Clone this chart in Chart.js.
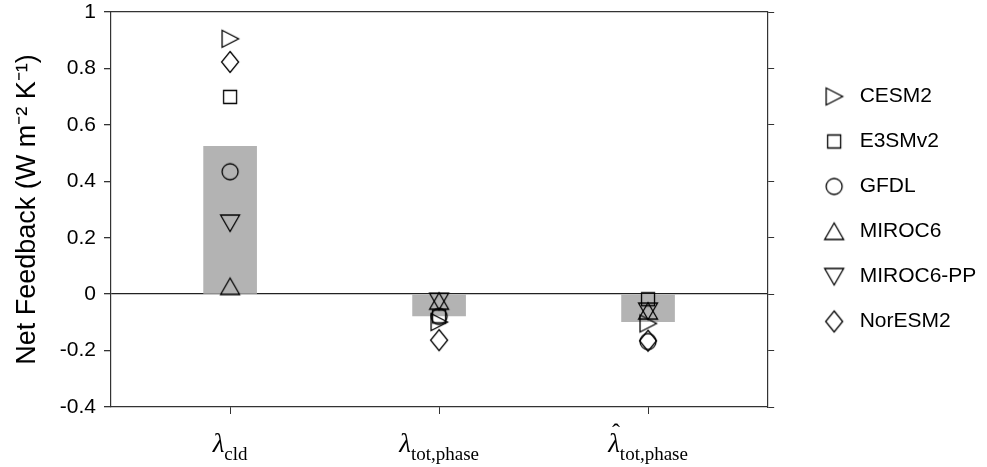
<!DOCTYPE html>
<html>
<head>
<meta charset="utf-8">
<script src="https://cdn.jsdelivr.net/npm/chart.js@4.4.1/dist/chart.umd.min.js"></script>
<style>
  html, body { margin: 0; padding: 0; background: #fff; }
</style>
</head>
<body>
<canvas id="chart" width="987" height="467"></canvas>
<script>
// categories (x positions) and their labels
var positions = [1, 2, 3];
var labelBase = ['λ', 'λ', 'λ'];
var labelSub = ['cld', 'tot,phase', 'tot,phase'];
var labelHat = [false, false, true];

// multi-model mean (grey bars)
var meanVals = [0.524, -0.077, -0.098];

// individual models
var models = ['CESM2', 'E3SMv2', 'GFDL', 'MIROC6', 'MIROC6-PP', 'NorESM2'];
var cesm2 = [0.905, -0.099, -0.104];
var e3smv2 = [0.699, -0.079, -0.018];
var gfdl = [0.434, -0.079, -0.168];
var miroc6 = [0.027, -0.025, -0.060];
var miroc6pp = [0.252, -0.025, -0.060];
var noresm2 = [0.823, -0.163, -0.165];

var yTicks = [-0.4, -0.2, 0, 0.2, 0.4, 0.6, 0.8, 1];

var SANS = 'Helvetica, "Liberation Sans", Arial, sans-serif';
var SERIF = '"Times New Roman", "Liberation Serif", serif';

// open marker shapes like the original plot
function marker(shape) {
    var c = document.createElement('canvas');
    c.width = 26; c.height = 26;
    var g = c.getContext('2d');
    var m = 13;
    g.strokeStyle = '#000';
    g.lineWidth = 1.3;
    g.beginPath();
    if (shape === 'right') {
        g.moveTo(m - 8, m - 8.5); g.lineTo(m + 8.5, m); g.lineTo(m - 8, m + 8.5); g.closePath();
    } else if (shape === 'square') {
        g.rect(m - 6.5, m - 6.5, 13, 13);
    } else if (shape === 'circle') {
        g.arc(m, m, 8, 0, Math.PI * 2);
    } else if (shape === 'up') {
        g.moveTo(m, m - 8.5); g.lineTo(m + 9.5, m + 8); g.lineTo(m - 9.5, m + 8); g.closePath();
    } else if (shape === 'down') {
        g.moveTo(m, m + 8.5); g.lineTo(m + 9.5, m - 8); g.lineTo(m - 9.5, m - 8); g.closePath();
    } else if (shape === 'diamond') {
        g.moveTo(m, m - 10.5); g.lineTo(m + 8.5, m); g.lineTo(m, m + 10.5); g.lineTo(m - 8.5, m); g.closePath();
    }
    g.stroke();
    return c;
}

var shapes = ['right', 'square', 'circle', 'up', 'down', 'diamond'];
var seriesVals = [cesm2, e3smv2, gfdl, miroc6, miroc6pp, noresm2];

function pts(vals) {
    return positions.map(function(p, i) { return { x: p, y: vals[i] }; });
}

var datasets = [{
    type: 'bar',
    label: 'mean',
    data: pts(meanVals),
    backgroundColor: '#b3b3b3',
    borderWidth: 0,
    barThickness: 53,
    order: 10
}];
models.forEach(function(name, k) {
    datasets.push({
        label: name,
        data: pts(seriesVals[k]),
        pointStyle: marker(shapes[k]),
        pointRadius: 9,
        showLine: false,
        order: 1
    });
});

// draws the lambda tick labels with sub/superscripts
var xLabelPlugin = {
    id: 'xLabels',
    afterDraw: function(chart) {
        var ctx = chart.ctx;
        var sx = chart.scales.x;
        ctx.save();
        ctx.fillStyle = '#000';
        ctx.textBaseline = 'alphabetic';
        ctx.textAlign = 'left';
        positions.forEach(function(p, i) {
            var cx = sx.getPixelForValue(p);
            ctx.font = 'italic 27px ' + SERIF;
            var wBase = ctx.measureText(labelBase[i]).width;
            ctx.font = '19px ' + SERIF;
            var wSub = ctx.measureText(labelSub[i]).width;
            var x0 = cx - (wBase + wSub) / 2;
            ctx.font = 'italic 27px ' + SERIF;
            ctx.fillText(labelBase[i], x0, 452);
            if (labelHat[i]) {
                ctx.font = '24px ' + SERIF;
                ctx.textAlign = 'center';
                ctx.fillText('ˆ', x0 + wBase / 2 + 2, 440);
                ctx.textAlign = 'left';
            }
            ctx.font = '19px ' + SERIF;
            ctx.fillText(labelSub[i], x0 + wBase, 460);
        });
        ctx.restore();
    }
};

var border = { display: true, color: '#333', width: 1.2 };

new Chart(document.getElementById('chart'), {
    type: 'scatter',
    data: { datasets: datasets },
    plugins: [xLabelPlugin],
    options: {
        responsive: false,
        animation: false,
        layout: { padding: { left: 0, right: 10, top: 0, bottom: 30 } },
        plugins: {
            tooltip: { enabled: false },
            legend: {
                position: 'right',
                labels: {
                    usePointStyle: true,
                    pointStyleWidth: 30,
                    padding: 5,
                    color: '#000',
                    font: { family: SANS, size: 21, lineHeight: '40px' },
                    // array text -> item height follows the font line height
                    generateLabels: function(chart) {
                        var items = Chart.defaults.plugins.legend.labels.generateLabels(chart);
                        return items.map(function(it) { it.text = [it.text]; return it; });
                    },
                    filter: function(item) { return item.datasetIndex > 0; }
                }
            }
        },
        scales: {
            x: {
                type: 'linear',
                min: 0.43,
                max: 3.57,
                offset: false,
                afterBuildTicks: function(s) { s.ticks = positions.map(function(v) { return { value: v }; }); },
                ticks: { display: false },
                grid: { offset: false, drawOnChartArea: false, tickLength: 7, tickColor: '#333' },
                border: border,
                afterFit: function(s) { s.height = 30; }
            },
            x2: {
                type: 'linear',
                position: 'top',
                min: 0.43,
                max: 3.57,
                offset: false,
                ticks: { display: false },
                grid: { offset: false, drawOnChartArea: false, drawTicks: false },
                border: border,
                afterFit: function(s) { s.height = 0; }
            },
            y: {
                min: -0.4,
                max: 1,
                afterBuildTicks: function(s) { s.ticks = yTicks.map(function(v) { return { value: v }; }); },
                ticks: {
                    color: '#000',
                    padding: 8,
                    font: { family: SANS, size: 21 },
                    callback: function(v) { return String(v); }
                },
                grid: {
                    drawOnChartArea: true,
                    color: function(c) { return c.tick && c.tick.value === 0 ? '#222' : 'rgba(0,0,0,0)'; },
                    lineWidth: 1.3,
                    tickLength: 7,
                    tickColor: '#333'
                },
                border: border,
                title: {
                    display: true,
                    text: 'Net Feedback (W m⁻² K⁻¹)',
                    color: '#000',
                    font: { family: SANS, size: 27 },
                    padding: { top: 11, bottom: 0 }
                },
                afterFit: function(s) { s.width = 111; s.paddingTop = 12; s.paddingBottom = 0; }
            },
            y2: {
                position: 'right',
                min: -0.4,
                max: 1,
                afterBuildTicks: function(s) { s.ticks = yTicks.map(function(v) { return { value: v }; }); },
                ticks: { display: false },
                grid: { drawOnChartArea: false, tickLength: 7, tickColor: '#333' },
                border: border,
                afterFit: function(s) { s.width = 47; s.paddingTop = 0; s.paddingBottom = 0; }
            }
        }
    }
});
</script>
</body>
</html>
